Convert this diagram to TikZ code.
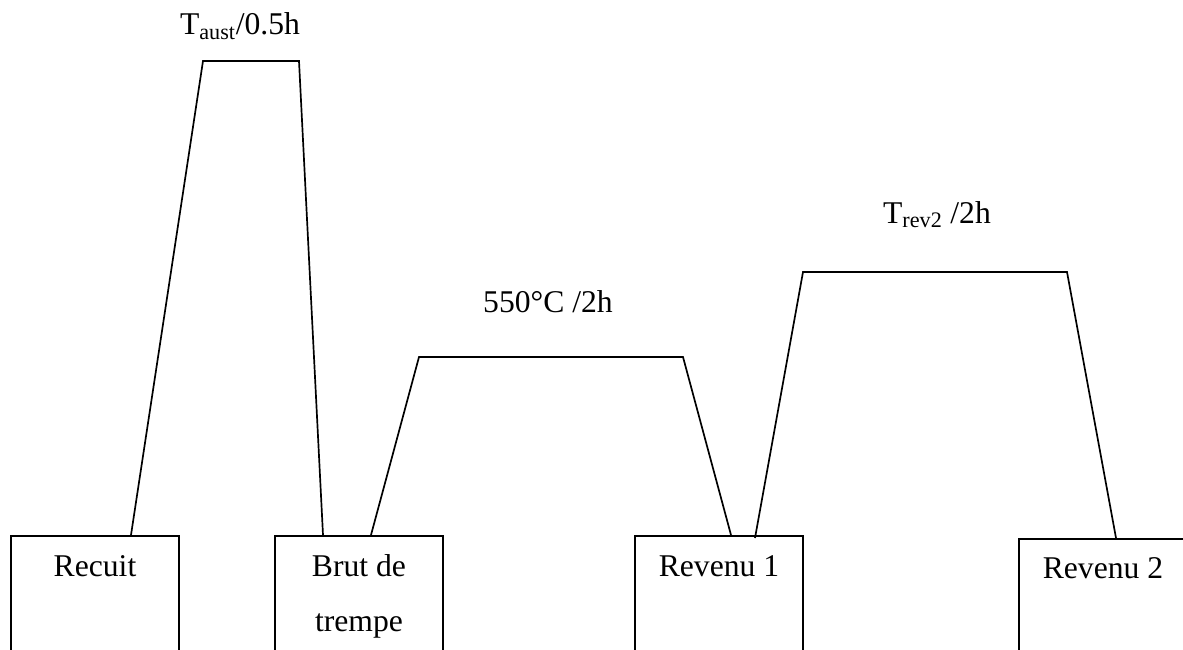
\documentclass[tikz,border=0pt]{standalone}
\usepackage{fontspec}
\setmainfont{Liberation Serif}
\begin{document}
\begin{tikzpicture}[x=0.025cm,y=-0.025cm]
\tikzstyle{every node}=[font=\fontsize{22.5}{39}\selectfont];
\tikzstyle{stage}=[draw,line width=1.2pt,rectangle,minimum width=4.2cm,minimum height=5cm,anchor=north,inner sep=0pt];
\tikzstyle{lbl}=[anchor=base,inner sep=0pt,align=center];
\tikzstyle{cycle}=[line width=1.2pt,line join=miter];
\useasboundingbox (0,0) rectangle (1183,650);
\clip (0,0) rectangle (1183,650);

\node[stage] (recuit) at (95,535) {};
\node[stage] (brut) at (359,535) {};
\node[stage] (rev1) at (719,535) {};
\node[stage] (rev2) at (1103,538) {};

\node[lbl] (recuit-txt) at (95,576) {Recuit};
\node[lbl] (brut-txt) at (359,631) {Brut de\\trempe};
\node[lbl] (rev1-txt) at (719,576) {Revenu 1};
\node[lbl] (rev2-txt) at (1103,578) {Revenu 2};

\coordinate (recuit-out) at (131,535);
\coordinate (aust-a) at (203,61);
\coordinate (aust-b) at (299,61);
\coordinate (brut-in) at (323,535);
\coordinate (brut-out) at (371,535);
\coordinate (rev1-a) at (419,357);
\coordinate (rev1-b) at (683,357);
\coordinate (rev1-in) at (731,535);
\coordinate (rev1-out) at (755,538);
\coordinate (rev2-a) at (803,272);
\coordinate (rev2-b) at (1067,272);
\coordinate (rev2-in) at (1116,538);

\draw[cycle] (recuit-out) -- (aust-a) -- (aust-b) -- (brut-in);
\draw[cycle] (brut-out) -- (rev1-a) -- (rev1-b) -- (rev1-in);
\draw[cycle] (rev1-out) -- (rev2-a) -- (rev2-b) -- (rev2-in);

\node[lbl] (aust-txt) at (240,35) {T\textsubscript{aust}/0.5h};
\node[lbl] (rev1-cond) at (548,312) {550°C /2h};
\node[lbl] (rev2-cond) at (937,223) {T\textsubscript{rev2} /2h};
\end{tikzpicture}
\end{document}
